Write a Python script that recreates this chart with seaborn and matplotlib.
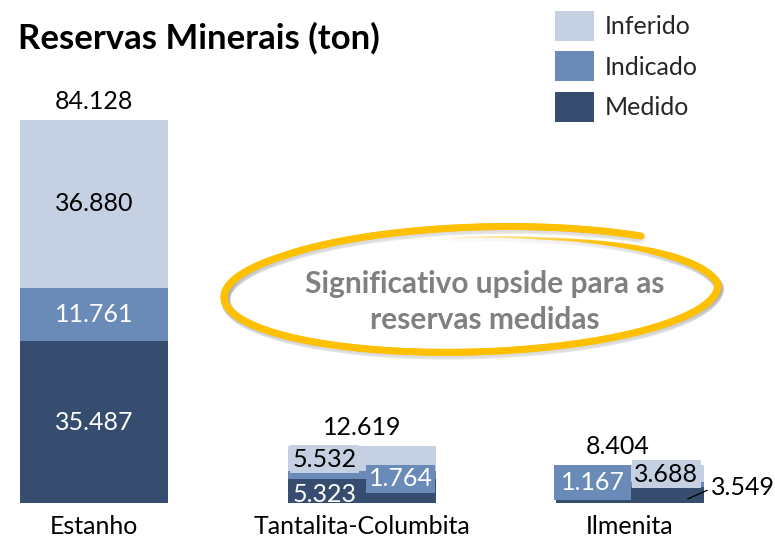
import numpy as np
import pandas as pd
import matplotlib
matplotlib.use("Agg")
import matplotlib.pyplot as plt
from matplotlib.patches import Patch
from matplotlib.collections import LineCollection
import seaborn as sns

# Reserve data (tonnes)
categorias = ["Estanho", "Tantalita-Columbita", "Ilmenita"]
medido = [35487, 5323, 3549]
indicado = [11761, 1764, 1167]
inferido = [36880, 5532, 3688]
series = ["Medido", "Indicado", "Inferido"]
cores = {"Medido": "#364D6F", "Indicado": "#6A8AB8", "Inferido": "#C5D0E3"}

sns.set_theme(style="white")
plt.rcParams["font.family"] = ["Lato", "DejaVu Sans"]

W, H = 775, 540
fig = plt.figure(figsize=(W / 100, H / 100), dpi=100)

# Main axes: baseline at y=503 px
ax = fig.add_axes([0, 1 - 503 / H, 1, 503 / H])

df = pd.DataFrame({"categoria": categorias, "Medido": medido,
                   "Indicado": indicado, "Inferido": inferido})
base = np.zeros(len(categorias))
for s in series:
    sns.barplot(data=df, x="categoria", y=s, order=categorias, color=cores[s],
                width=0.55, bottom=base, ax=ax, saturation=1, linewidth=0)
    base = base + df[s].to_numpy()
totais = base

ax.set_xlim(-94 / 268, (W - 94) / 268)
ax.set_ylim(0, 84128 * 503 / 383)
ax.set_xlabel("")
ax.set_ylabel("")
ax.set_yticks([])
fs = 18
ax.tick_params(axis="x", length=0, labelsize=fs, pad=9, colors="black")
sns.despine(ax=ax, left=True, bottom=True)

fmt = lambda v: f"{v:,}".replace(",", ".")

# Totals above bars
tot_dx = [0, 0, -0.045]
for i, t in enumerate(totais):
    ax.annotate(fmt(int(t)), (i + tot_dx[i], t), xytext=(0, 5),
                textcoords="offset points", ha="center", va="bottom",
                fontsize=fs, color="black")

# Estanho segment labels (centered)
ax.text(0, medido[0] / 2, fmt(medido[0]), ha="center", va="center", fontsize=fs, color="white")
ax.text(0, medido[0] + indicado[0] / 2, fmt(indicado[0]), ha="center", va="center", fontsize=fs, color="white")
ax.text(0, medido[0] + indicado[0] + inferido[0] / 2, fmt(inferido[0]), ha="center", va="center", fontsize=fs, color="black")


def box(fc):
    return dict(boxstyle="square,pad=0.1", fc=fc, ec="none")


# Tantalita-Columbita labels
ax.annotate(fmt(inferido[1]), (1 - 0.14, totais[1]), xytext=(0, -1.5), textcoords="offset points",
            ha="center", va="top", fontsize=fs, color="black", bbox=box(cores["Inferido"]))
ax.annotate(fmt(indicado[1]), (1 + 0.145, medido[1] + indicado[1] / 2), xytext=(0, -3),
            textcoords="offset points", ha="center", va="center", fontsize=fs,
            color="white", bbox=box(cores["Indicado"]))
ax.annotate(fmt(medido[1]), (1 - 0.14, 0), xytext=(0, -2), textcoords="offset points",
            ha="center", va="bottom", fontsize=fs, color="white")

# Ilmenita labels
ax.annotate(fmt(indicado[2]), (2 - 0.14, medido[2] / 2), xytext=(0, 9),
            textcoords="offset points", ha="center", va="center", fontsize=fs,
            color="white", bbox=dict(boxstyle="square,pad=0.25", fc=cores["Indicado"], ec="none"))
ax.annotate(fmt(inferido[2]), (2 + 0.135, totais[2]), xytext=(0, -7),
            textcoords="offset points", ha="center", va="center", fontsize=fs,
            color="black", bbox=box(cores["Inferido"]))
ax.annotate(fmt(medido[2]), xy=(2 + 0.215, medido[2] * 0.25), xytext=(2 + 0.42, medido[2] * 0.95),
            ha="center", va="center", fontsize=fs, color="black",
            arrowprops=dict(arrowstyle="-", color="black", lw=0.9, shrinkA=0, shrinkB=0,
                            relpos=(0.0, 0.45)))

fig.text(18 / W, 1 - 38 / H, "Reservas Minerais (ton)", fontsize=25, fontweight="bold",
         ha="left", va="center", color="black")

# Hand-drawn highlight loop (pixel coordinates overlay)
ov = fig.add_axes([0, 0, 1, 1], zorder=5)
ov.set_xlim(0, W)
ov.set_ylim(H, 0)
ov.axis("off")
ov.patch.set_alpha(0)

thd = np.linspace(50, 455, 600)
th = np.deg2rad(thd)
sc = np.interp(thd, [50, 140, 360, 430, 455], [1.08, 1.0, 1.0, 0.88, 0.88])
cx, cy, a, b = 471, 291, 247, 61
rot = np.deg2rad(1.5)
ex = a * sc * np.cos(th)
ey = b * sc * np.sin(th)
px = cx + ex * np.cos(rot) - ey * np.sin(rot)
py = cy - (ex * np.sin(rot) + ey * np.cos(rot))
widths = np.interp(thd, [50, 390, 420, 455], [5.0, 5.0, 2.2, 0.8])[:-1]
alphas = np.interp(thd, [50, 395, 425, 455], [1.0, 1.0, 0.5, 0.15])[:-1]

# soft shadow under the stroke
spts = np.column_stack([px + 1.5, py + 2.5]).reshape(-1, 1, 2)
ssegs = np.concatenate([spts[:-1], spts[1:]], axis=1)
ov.add_collection(LineCollection(ssegs, linewidths=widths + 2,
                                 colors=[(0.5, 0.5, 0.5, 0.07 * al) for al in alphas],
                                 capstyle="round"))
pts = np.column_stack([px, py]).reshape(-1, 1, 2)
segs = np.concatenate([pts[:-1], pts[1:]], axis=1)
ov.add_collection(LineCollection(segs, linewidths=widths,
                                 colors=[(1.0, 0.753, 0.0, al) for al in alphas],
                                 capstyle="round"))
ov.text(485, 302, "Significativo upside para as\nreservas medidas", ha="center", va="center",
        fontsize=21.5, fontweight="bold", color="#808080", linespacing=1.38)

# Legend
handles = [Patch(facecolor=cores[s], edgecolor="none", label=s) for s in reversed(series)]
ax.legend(handles=handles, loc="upper left", bbox_to_anchor=(555 / W, 1 - 11 / H),
          bbox_transform=fig.transFigure, frameon=False, fontsize=fs,
          handlelength=1.55, handleheight=1.45, handletextpad=0.45, labelspacing=0.43,
          borderaxespad=0, borderpad=0)

fig.savefig("out.png", dpi=100)
